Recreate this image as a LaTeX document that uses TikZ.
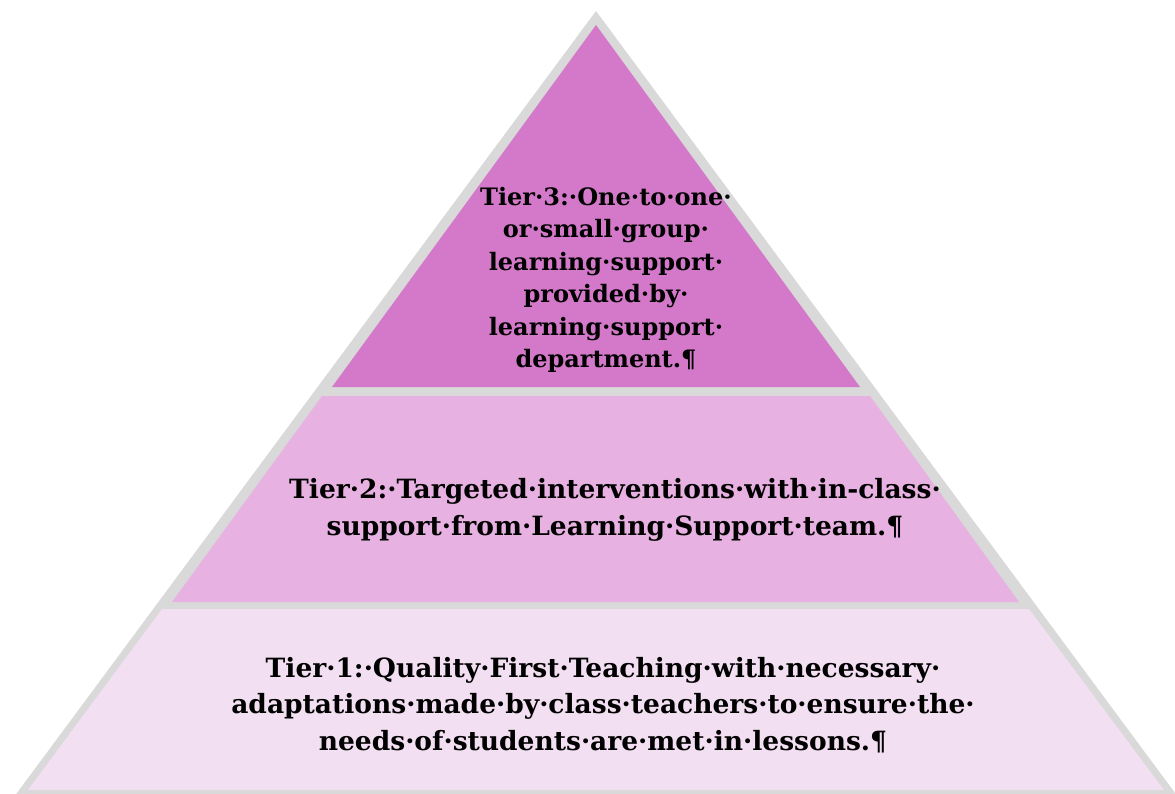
\documentclass[tikz,border=0pt]{standalone}
\usepackage{fontspec}
\usetikzlibrary{positioning}
\newfontfamily\tierfont{DejaVu Serif}
\definecolor{tierthree}{RGB}{212,121,201}
\definecolor{tiertwo}{RGB}{231,177,225}
\definecolor{tierone}{RGB}{243,223,242}
\definecolor{edgegray}{RGB}{217,217,217}

\begin{document}
\begin{tikzpicture}[x=1pt, y=-1pt,
        tiertext/.style={align=center, inner sep=0pt, font=\tierfont\bfseries\fontsize{24}{32.5}\selectfont},
        widetext/.style={tiertext, font=\tierfont\bfseries\fontsize{26.5}{36.5}\selectfont}
      ]
        \useasboundingbox (0,0) rectangle (1175,794);
        \fill[edgegray] (596,11) -- (1178,797) -- (14,797) -- cycle;
        \fill[tierthree] (596,25) -- (860,387) -- (332,387) -- cycle;
        \fill[tiertwo] (322,396) -- (870,396) -- (1019,602) -- (172,602) -- cycle;
        \fill[tierone] (162,609) -- (1029,609) -- (1164,790) -- (28,790) -- cycle;

        \node[tiertext] at (606,280) (tier3) {Tier·3:·One·to·one·\\or·small·group·\\learning·support·\\provided·by·\\learning·support·\\department.¶};
        \node[widetext] at (615,510) (tier2) {Tier·2:·Targeted·interventions·with·in-class·\\support·from·Learning·Support·team.¶};
        \node[widetext] at (603,705) (tier1) {Tier·1:·Quality·First·Teaching·with·necessary·\\adaptations·made·by·class·teachers·to·ensure·the·\\needs·of·students·are·met·in·lessons.¶};
      \end{tikzpicture}
\end{document}
